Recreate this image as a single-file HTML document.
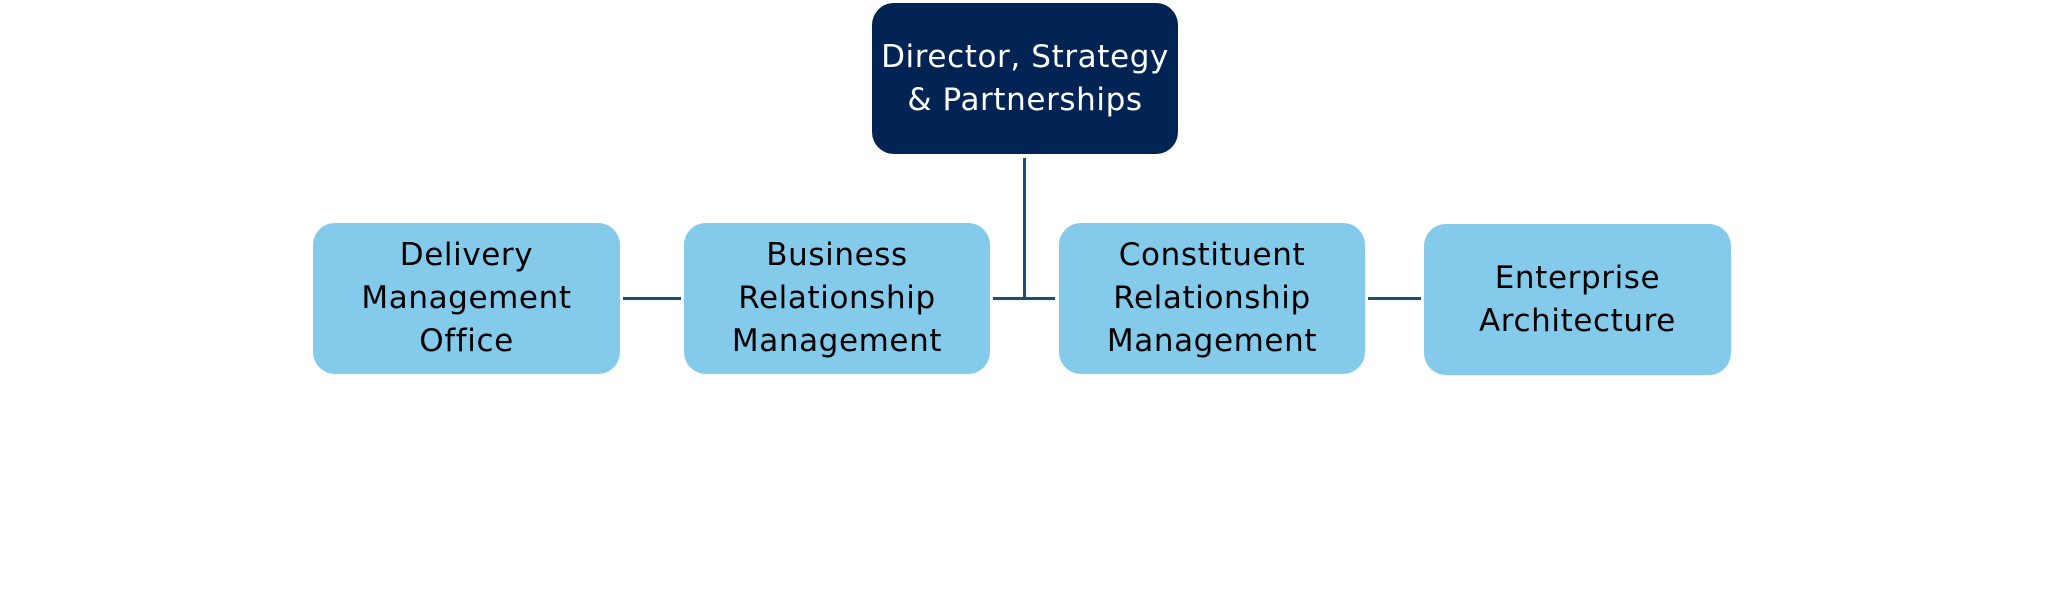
<!DOCTYPE html>
<html>
<head>
<meta charset="utf-8">
<style>
  html, body { margin:0; padding:0; background:#ffffff; }
  body { width:2048px; height:597px; position:relative; overflow:hidden; }
  .box {
    position:absolute;
    display:flex; align-items:center; justify-content:center;
    text-align:center;
    font-family:"DejaVu Sans","Liberation Sans",sans-serif;
    font-size:31px; line-height:43px; letter-spacing:0.6px;
    border-radius:22px;
    box-sizing:border-box;
  }
  .light { background:#83caeb; color:#000000; }
  .dark { background:#022454; color:#ffffff; }
  .ln { position:absolute; background:#1c4f6d; }
</style>
</head>
<body>
  <div class="box dark" style="left:872px; top:3px; width:306px; height:151px;">Director, Strategy<br>&amp; Partnerships</div>

  <div class="box light" style="left:313px; top:223px; width:307px; height:151px;">Delivery<br>Management<br>Office</div>
  <div class="box light" style="left:684px; top:223px; width:306px; height:151px;">Business<br>Relationship<br>Management</div>
  <div class="box light" style="left:1059px; top:223px; width:306px; height:151px;">Constituent<br>Relationship<br>Management</div>
  <div class="box light" style="left:1424px; top:224px; width:307px; height:151px;">Enterprise<br>Architecture</div>

  <!-- connectors -->
  <div class="ln" style="left:1023px; top:158px; width:3px; height:142px;"></div>
  <div class="ln" style="left:993px; top:297px; width:62px; height:3px;"></div>
  <div class="ln" style="left:623px; top:297px; width:58px; height:3px;"></div>
  <div class="ln" style="left:1368px; top:297px; width:53px; height:3px;"></div>
</body>
</html>
